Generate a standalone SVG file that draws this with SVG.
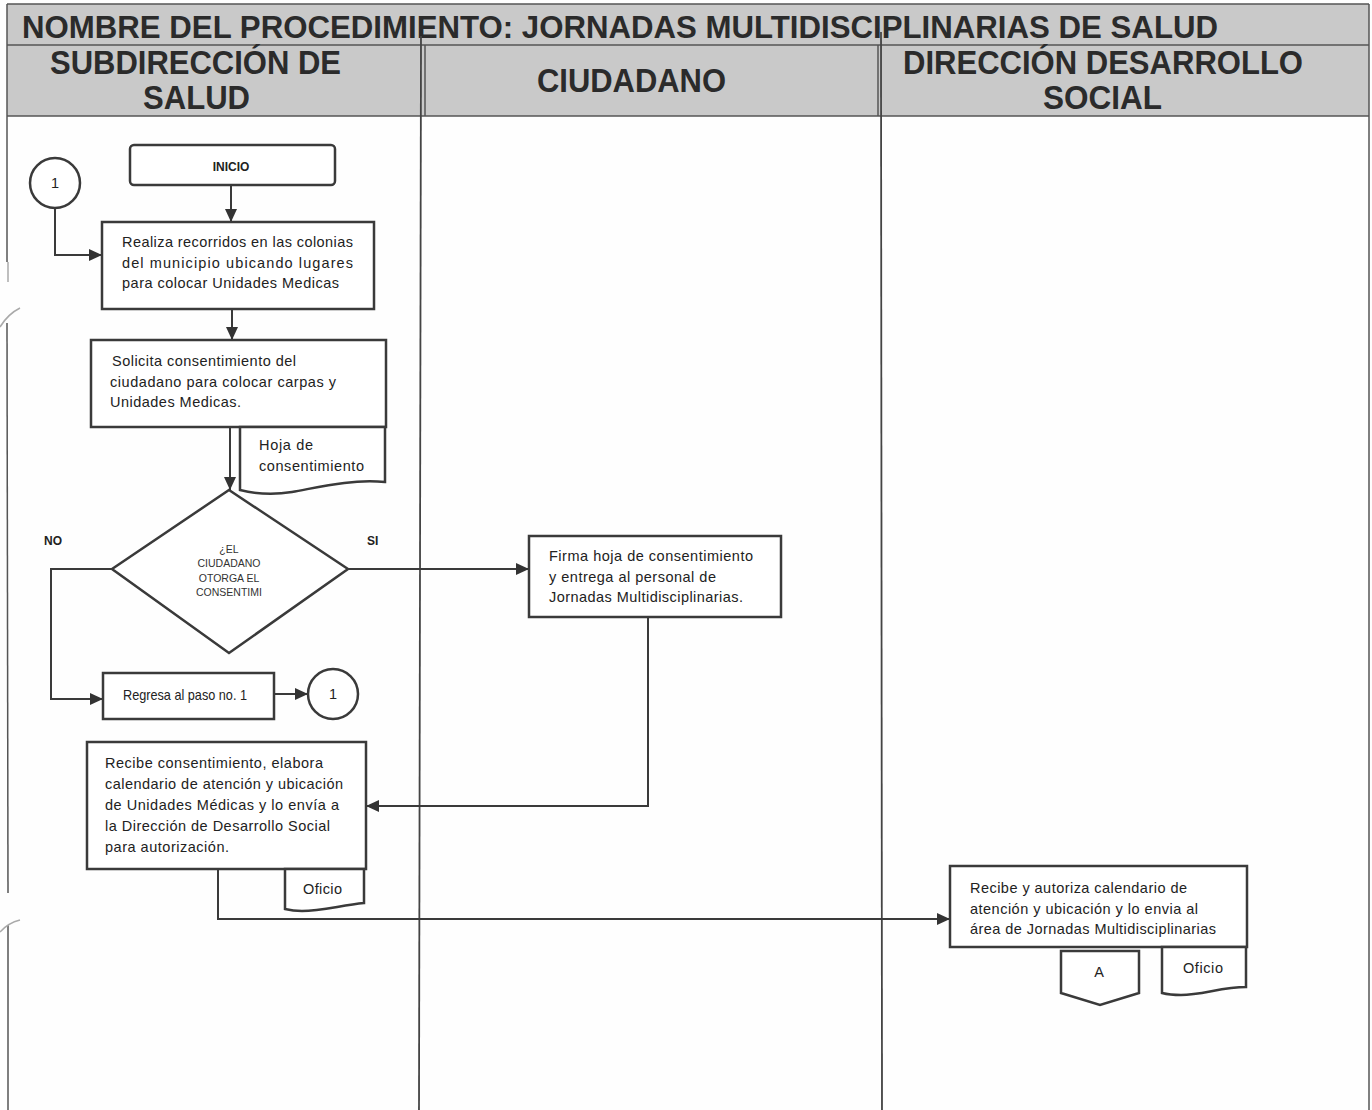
<svg xmlns="http://www.w3.org/2000/svg" width="1372" height="1110" viewBox="0 0 1372 1110">
  <style>
    .hdr { font-family: "Liberation Sans", Arial, sans-serif; font-weight: bold; fill: #2b2b2b; }
    .txt { font-family: "Liberation Sans", Arial, sans-serif; font-size: 14.5px; fill: #222; }
    .sm { font-family: "Liberation Sans", Arial, sans-serif; font-size: 10.5px; fill: #333; text-anchor: middle; }
    .lbl { font-family: "Liberation Sans", Arial, sans-serif; font-size: 12px; font-weight: bold; fill: #222; }
    .box { fill: #fff; stroke: #3a3a3a; stroke-width: 2.5; }
    .frame { fill: none; stroke: #555; stroke-width: 1.5; }
    .lane { fill: none; stroke: #444; stroke-width: 1.8; }
    .edge { fill: none; stroke: #3a3a3a; stroke-width: 2; }
    .scan { fill: none; stroke: #aaa; stroke-width: 1.5; }
  </style>
  <defs>
    <marker id="arrow" markerUnits="userSpaceOnUse" markerWidth="14" markerHeight="12" refX="13" refY="6" orient="auto">
      <path d="M0,0 L13,6 L0,12 z" fill="#333"/>
    </marker>
  </defs>

  <rect width="1372" height="1110" fill="#fefefe"/>

  <!-- header band -->
  <g id="header">
    <rect x="7" y="4" width="1362" height="112" fill="#c9c9c9"/>
    <line x1="7" y1="4" x2="1369" y2="4" class="frame"/>
    <line x1="7" y1="45" x2="1369" y2="45" class="frame"/>
    <line x1="7" y1="116" x2="1369" y2="116" class="frame"/>
    <line x1="425" y1="45" x2="425" y2="116" class="frame"/>
    <line x1="878" y1="45" x2="878" y2="116" class="frame"/>
    <text class="hdr" x="22" y="38" font-size="32" textLength="1196" lengthAdjust="spacingAndGlyphs">NOMBRE DEL PROCEDIMIENTO: JORNADAS MULTIDISCIPLINARIAS DE SALUD</text>
    <text class="hdr" x="50" y="74" font-size="33" textLength="291" lengthAdjust="spacingAndGlyphs">SUBDIRECCIÓN DE</text>
    <text class="hdr" x="143" y="109" font-size="33" textLength="107" lengthAdjust="spacingAndGlyphs">SALUD</text>
    <text class="hdr" x="537" y="92" font-size="33" textLength="189" lengthAdjust="spacingAndGlyphs">CIUDADANO</text>
    <text class="hdr" x="903" y="74" font-size="33" textLength="400" lengthAdjust="spacingAndGlyphs">DIRECCIÓN DESARROLLO</text>
    <text class="hdr" x="1043" y="109" font-size="33" textLength="119" lengthAdjust="spacingAndGlyphs">SOCIAL</text>
  </g>

  <!-- outer frame and lane lines -->
  <g id="lanes">
    <line x1="7" y1="4" x2="7" y2="262" class="frame"/>
    <line x1="8" y1="262" x2="8" y2="282" class="scan"/>
    <line x1="7" y1="323" x2="8" y2="893" class="frame"/>
    <line x1="8" y1="925" x2="8" y2="1110" class="frame"/>
    <path d="M0,327 Q8,314 20,308" class="scan"/>
    <path d="M0,932 Q8,923 20,920" class="scan"/>
    <line x1="1369" y1="4" x2="1369" y2="1110" class="frame"/>
    <line x1="421" y1="36" x2="419" y2="1110" class="lane"/>
    <line x1="881" y1="32" x2="882" y2="1110" class="lane"/>
  </g>

  <!-- connectors -->
  <g id="connectors">
    <path class="edge" d="M231,185 V222" marker-end="url(#arrow)"/>
    <path class="edge" d="M55,208 V255 H102" marker-end="url(#arrow)"/>
    <path class="edge" d="M232,309 V340" marker-end="url(#arrow)"/>
    <path class="edge" d="M230,427 V490" marker-end="url(#arrow)"/>
    <path class="edge" d="M112,569 H51 V699 H103" marker-end="url(#arrow)"/>
    <path class="edge" d="M274,694 H308" marker-end="url(#arrow)"/>
    <path class="edge" d="M348,569 H529" marker-end="url(#arrow)"/>
    <path class="edge" d="M648,617 V806 H366" marker-end="url(#arrow)"/>
    <path class="edge" d="M218,869 V919 H950" marker-end="url(#arrow)"/>
  </g>

  <g id="inicio">
    <rect class="box" x="130" y="145" width="205" height="40" rx="4"/>
    <text class="lbl" x="231" y="171" text-anchor="middle">INICIO</text>
  </g>

  <g id="conector-1">
    <circle class="box" cx="55" cy="183" r="25" stroke-width="2"/>
    <text class="txt" x="55" y="188" font-size="12" text-anchor="middle">1</text>
  </g>

  <g id="recorridos">
    <rect class="box" x="102" y="222" width="272" height="87"/>
    <text class="txt" x="122" y="247" textLength="231" lengthAdjust="spacing">Realiza recorridos en las colonias</text>
    <text class="txt" x="122" y="268" textLength="231" lengthAdjust="spacing">del municipio ubicando lugares</text>
    <text class="txt" x="122" y="288" textLength="217" lengthAdjust="spacing">para colocar Unidades Medicas</text>
  </g>

  <g id="solicita">
    <rect class="box" x="91" y="340" width="295" height="87"/>
    <text class="txt" x="112" y="366" textLength="184" lengthAdjust="spacing">Solicita consentimiento del</text>
    <text class="txt" x="110" y="387" textLength="226" lengthAdjust="spacing">ciudadano para colocar carpas y</text>
    <text class="txt" x="110" y="407" textLength="131" lengthAdjust="spacing">Unidades Medicas.</text>
  </g>

  <g id="hoja-consentimiento">
    <path class="box" d="M240,427 H385 V482 C350,479 320,487 292,492 C268,496 252,493 240,490 Z"/>
    <text class="txt" x="259" y="450" textLength="54" lengthAdjust="spacing">Hoja de</text>
    <text class="txt" x="259" y="471" textLength="105" lengthAdjust="spacing">consentimiento</text>
  </g>

  <g id="decision">
    <path class="box" d="M229,490 L348,569 L229,653 L112,569 Z"/>
    <text class="sm" x="229" y="553">¿EL</text>
    <text class="sm" x="229" y="567">CIUDADANO</text>
    <text class="sm" x="229" y="582">OTORGA EL</text>
    <text class="sm" x="229" y="596">CONSENTIMI</text>
    <text class="lbl" x="44" y="545">NO</text>
    <text class="lbl" x="367" y="545">SI</text>
  </g>

  <g id="regresa">
    <rect class="box" x="103" y="673" width="171" height="46"/>
    <text class="txt" x="123" y="700" font-size="13.5" textLength="124" lengthAdjust="spacingAndGlyphs">Regresa al paso no. 1</text>
  </g>

  <g id="conector-1-salida">
    <circle class="box" cx="333" cy="694" r="25" stroke-width="2"/>
    <text class="txt" x="333" y="699" font-size="12" text-anchor="middle">1</text>
  </g>

  <g id="firma">
    <rect class="box" x="529" y="536" width="252" height="81"/>
    <text class="txt" x="549" y="561" textLength="204" lengthAdjust="spacing">Firma hoja de consentimiento</text>
    <text class="txt" x="549" y="582" textLength="167" lengthAdjust="spacing">y entrega al personal de</text>
    <text class="txt" x="549" y="602" textLength="194" lengthAdjust="spacing">Jornadas Multidisciplinarias.</text>
  </g>

  <g id="recibe-consentimiento">
    <rect class="box" x="87" y="742" width="279" height="127"/>
    <text class="txt" x="105" y="768" textLength="218" lengthAdjust="spacing">Recibe consentimiento, elabora</text>
    <text class="txt" x="105" y="789" textLength="238" lengthAdjust="spacing">calendario de atención y ubicación</text>
    <text class="txt" x="105" y="810" textLength="234" lengthAdjust="spacing">de Unidades Médicas y lo envía a</text>
    <text class="txt" x="105" y="831" textLength="225" lengthAdjust="spacing">la Dirección de Desarrollo Social</text>
    <text class="txt" x="105" y="852" textLength="124" lengthAdjust="spacing">para autorización.</text>
  </g>

  <g id="oficio-1">
    <path class="box" d="M285,869 H364 V903 C342,905 322,911 302,911 C294,911 289,910 285,909 Z"/>
    <text class="txt" x="303" y="894" textLength="39" lengthAdjust="spacing">Oficio</text>
  </g>

  <g id="autoriza">
    <rect class="box" x="950" y="866" width="297" height="81"/>
    <text class="txt" x="970" y="893" font-size="14" textLength="217" lengthAdjust="spacing">Recibe y autoriza calendario de</text>
    <text class="txt" x="970" y="914" font-size="14" textLength="228" lengthAdjust="spacing">atención y ubicación y lo envia al</text>
    <text class="txt" x="970" y="934" font-size="14" textLength="246" lengthAdjust="spacing">área de Jornadas Multidisciplinarias</text>
  </g>

  <g id="conector-a">
    <path class="box" d="M1061,951 H1139 V993 L1100,1005 L1061,993 Z" stroke-width="2"/>
    <text class="txt" x="1099" y="977" font-size="13" text-anchor="middle">A</text>
  </g>

  <g id="oficio-2">
    <path class="box" d="M1162,947 H1246 V987 C1222,987 1202,995 1181,995 C1172,995 1166,994 1162,993 Z" stroke-width="2"/>
    <text class="txt" x="1183" y="973" textLength="40" lengthAdjust="spacing">Oficio</text>
  </g>
</svg>
